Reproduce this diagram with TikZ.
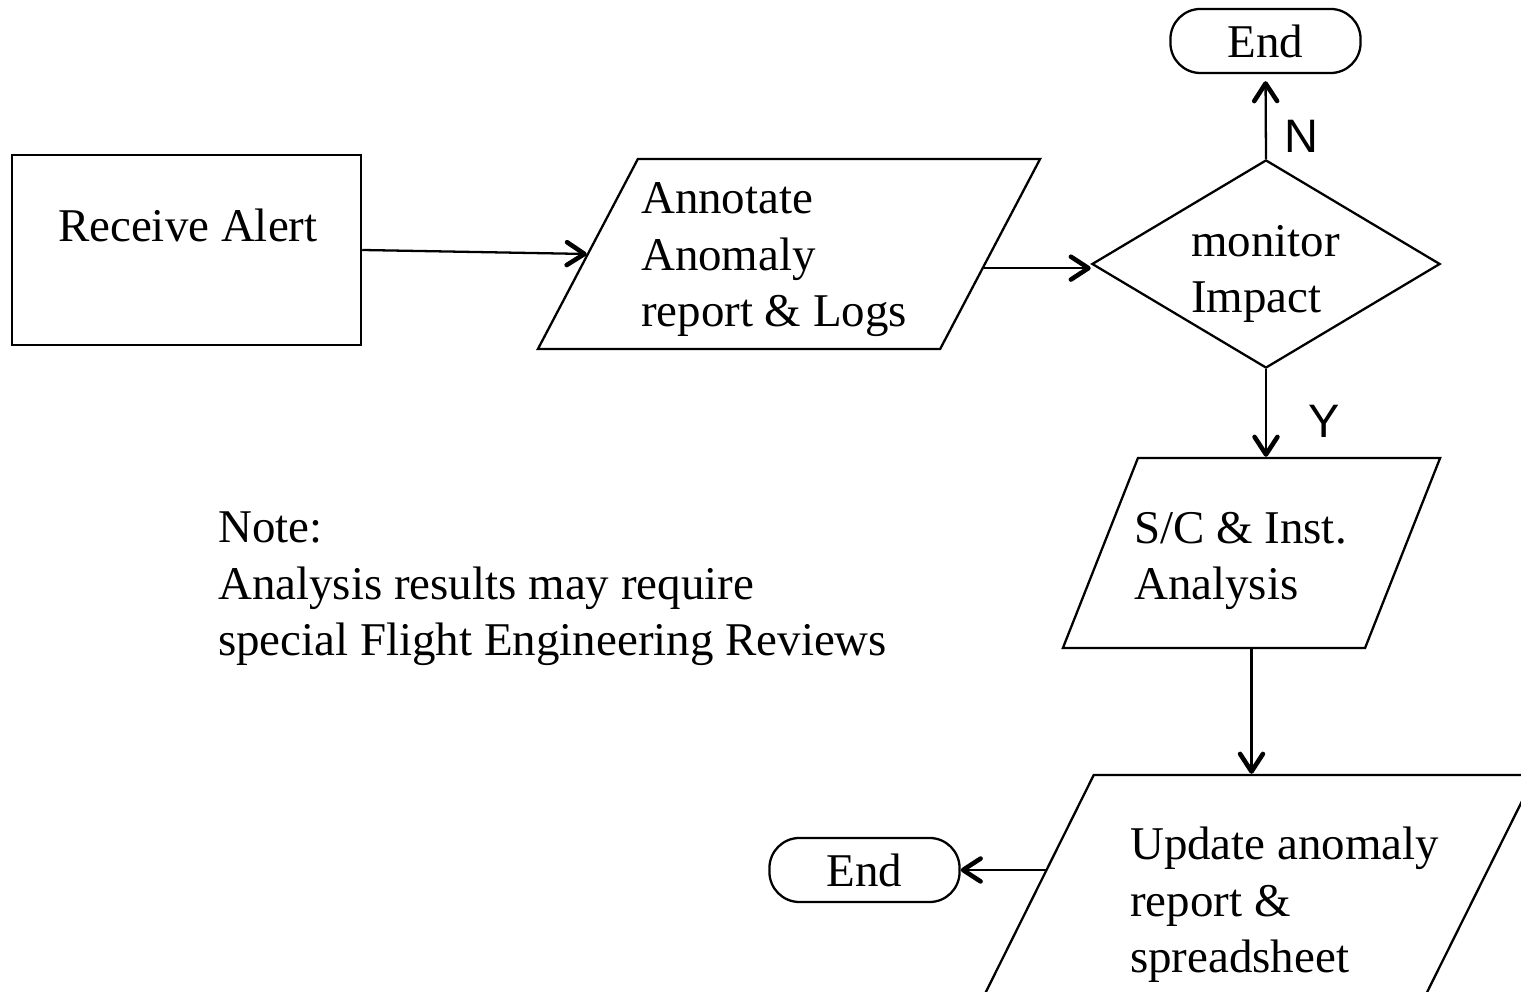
\documentclass[tikz,border=0pt]{standalone}
\usepackage{fontspec}
\setmainfont{Liberation Serif}
\newfontfamily\yesnofont{Liberation Sans}
\usetikzlibrary{shapes.geometric,arrows.meta}

\tikzset{
  box/.style={draw, rectangle, inner sep=0pt},
  io/.style={draw, rectangle, inner sep=0pt, transform shape},
  decide/.style={draw, diamond, inner sep=0pt},
  term/.style={draw, rectangle, rounded corners=0.3cm, minimum width=1.9cm, minimum height=0.64cm, inner sep=0pt},
  txt/.style={inner sep=0pt, align=left, anchor=base west},
  yn/.style={inner sep=0pt, font=\fontsize{13.35}{16.2}\selectfont\yesnofont},
  arr/.style={-{Straight Barb[length=5pt,width=6.5pt,line width=1.3pt,round]}}
}

\begin{document}
\begin{tikzpicture}[x=0.01cm, y=-0.01cm, line width=0.65pt, font=\fontsize{13.35}{16.2}\selectfont]
\useasboundingbox (0,0) rectangle (1521,992);

\node [box, minimum width=3.49cm, minimum height=1.9cm] (rcv) at (186.5,250) {};
\node [txt] (rcvtxt) at (57,242) {Receive Alert};

\node [io, xslant=0.526, minimum width=4.02cm, minimum height=1.9cm] (anno) at (789,254) {};
\node [txt] (annotxt) at (640,327) {Annotate\\Anomaly\\report \& Logs};

\node [decide, minimum width=3.48cm, minimum height=2.08cm] (dia) at (1266,264) {};
\node [txt] (diatxt) at (1190,313) {monitor\\Impact};

\node [term] (endA) at (1265.5,41) {End};
\node [yn] (no) at (1301,136.5) {N};
\node [yn] (yes) at (1324,421.5) {Y};

\node [io, xslant=0.395, minimum width=3.02cm, minimum height=1.9cm] (sc) at (1251.5,553) {};
\node [txt] (sctxt) at (1133,600) {S/C \& Inst.\\Analysis};

\node [io, xslant=0.497, minimum width=4.41cm, minimum height=2.55cm] (upd) at (1251,902.5) {};
\node [txt] (updtxt) at (1129,973) {Update anomaly\\report \&\\spreadsheet};

\node [term] (endB) at (864.5,870) {End};

\node [txt] (note) at (217,656) {Note:\\Analysis results may require\\special Flight Engineering Reviews};

\draw [arr] (rcv.east) -- (anno.west);
\draw [arr] (anno.356) -- (anno.356 -| dia.west);
\draw [arr, shorten >=2pt] (dia.north) -- (endA.south);
\draw [arr] (dia.south) -- (dia.south |- sc.north);
\draw [arr] (sc.center |- sc.south) -- (sc.center |- upd.north);
\draw [arr] (endB.east -| upd.171) -- (endB.east);

\end{tikzpicture}
\end{document}
